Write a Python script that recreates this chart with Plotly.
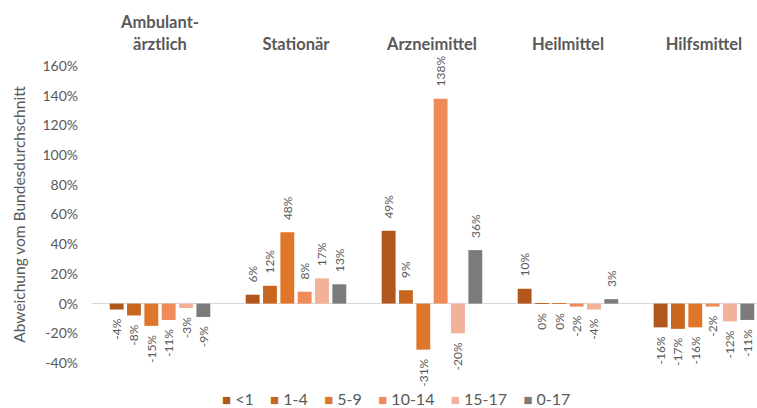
import plotly.graph_objects as go

# Spending categories (x axis, labels shown above the plot)
categories = ["Ambulant-<br>ärztlich", "Stationär", "Arzneimittel", "Heilmittel", "Hilfsmittel"]

# Age groups (one bar series each)
age_groups = ["<1", "1-4", "5-9", "10-14", "15-17", "0-17"]

# Deviation from the national average, in percent (rounded labels shown on the bars)
dev_lt1 = [-4, 6, 49, 10, -16]
dev_1_4 = [-8, 12, 9, -0.2, -17]
dev_5_9 = [-15, 48, -31, -0.2, -16]
dev_10_14 = [-11, 8, 138, -2, -2]
dev_15_17 = [-3, 17, -20, -4, -12]
dev_0_17 = [-9, 13, 36, 3, -11]

y_ticks = list(range(-40, 161, 20))

series = [dev_lt1, dev_1_4, dev_5_9, dev_10_14, dev_15_17, dev_0_17]
colors = ["#B2571C", "#C8661F", "#E07629", "#EE8B59", "#F3B199", "#7B7B7B"]

FONT = "Lato, 'Open Sans', sans-serif"
TEXT_GRAY = "#595959"
NB = "\u00a0"


def bar_label(v):
    # rounded percentage, padded on the side that faces the bar end
    txt = f"{round(v):d}%"
    return NB * 3 + txt if v > 0 else txt + NB * 2


fig = go.Figure()
x_idx = list(range(len(categories)))
for name, vals, col in zip(age_groups, series, colors):
    fig.add_trace(go.Bar(
        name=name,
        x=x_idx,
        y=vals,
        marker=dict(color=col, line=dict(width=0)),
        text=[bar_label(v) for v in vals],
        textposition="outside",
        textangle=-90,
        textfont=dict(family=FONT, size=12, color=TEXT_GRAY),
        cliponaxis=False,
        showlegend=False,
    ))

# Legend line: coloured square + age group, centred under the plot
legend_html = (NB * 4).join(
    f"<span style='color:{c};font-size:15px'>■</span>{NB}{g.replace('<', '&lt;')}"
    for g, c in zip(age_groups, colors)
)
fig.add_annotation(
    text=legend_html,
    xref="paper", yref="paper",
    x=0.457, y=-0.12,
    xanchor="center", yanchor="middle",
    showarrow=False,
    font=dict(family=FONT, size=16, color=TEXT_GRAY),
)

fig.update_layout(
    width=757,
    height=408,
    margin=dict(l=92, r=0, t=66, b=45),
    paper_bgcolor="white",
    plot_bgcolor="white",
    barmode="group",
    bargap=0.235,
    bargroupgap=0.2,
    font=dict(family=FONT, color=TEXT_GRAY),
    showlegend=False,
    uniformtext=dict(mode="show", minsize=12),
)

fig.update_xaxes(
    side="top",
    tickmode="array",
    tickvals=x_idx,
    ticktext=[f"<b>{c}</b>" for c in categories],
    tickfont=dict(family=FONT, size=16.5, color=TEXT_GRAY),
    range=[-0.5, 4.39],
    showline=False,
    showgrid=False,
    zeroline=False,
    ticks="",
    ticklabelstandoff=12,
)

fig.update_yaxes(
    range=[-40, 160],
    tickmode="array",
    tickvals=y_ticks,
    ticktext=[f"{t}%" for t in y_ticks],
    tickfont=dict(family=FONT, size=14, color=TEXT_GRAY),
    showgrid=False,
    zeroline=True,
    zerolinecolor="#D9D9D9",
    zerolinewidth=1,
    showline=False,
    ticks="",
    ticklabelstandoff=13,
    title=dict(
        text="Abweichung vom Bundesdurchschnitt",
        font=dict(family=FONT, size=15.5, color=TEXT_GRAY),
        standoff=12,
    ),
)

fig.write_html("out.html")
